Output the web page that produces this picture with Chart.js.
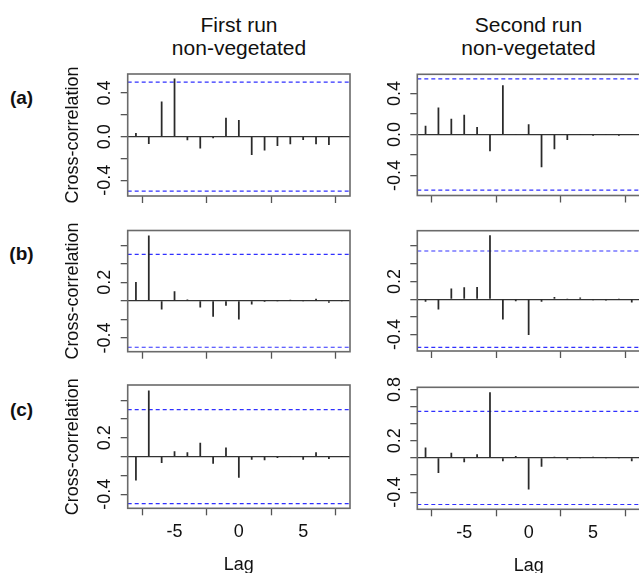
<!DOCTYPE html>
<html><head><meta charset="utf-8">
<script src="https://cdn.jsdelivr.net/npm/chart.js@4.4.1/dist/chart.umd.min.js"></script>
<style>
html,body{margin:0;padding:0;background:#fff;width:639px;height:573px;overflow:hidden;position:relative;font-family:'Liberation Sans',Arial,sans-serif;color:#111}
canvas{position:absolute}
.t{position:absolute;line-height:1;white-space:nowrap;transform:translate(-50%,-50%)}
.h{font-size:21px}
.r{font-size:19px;font-weight:bold}
</style></head><body>
<div class="t h" style="left:239px;top:24.4px">First run</div>
<div class="t h" style="left:239px;top:47.2px">non-vegetated</div>
<div class="t h" style="left:528.5px;top:24.4px">Second run</div>
<div class="t h" style="left:528.5px;top:47.2px">non-vegetated</div>
<div class="t r" style="left:21.5px;top:96.5px">(a)</div>
<div class="t r" style="left:21.5px;top:253px">(b)</div>
<div class="t r" style="left:21.5px;top:409px">(c)</div>
<script>
// ---- data ----
const lags = [-8,-7,-6,-5,-4,-3,-2,-1,0,1,2,3,4,5,6,7,8];
const aFirst  = [0.03,-0.064,0.32,0.53,-0.03,-0.107,-0.012,0.17,0.15,-0.165,-0.125,-0.083,-0.067,-0.028,-0.067,-0.073,0.0];
const aSecond = [0.082,0.26,0.15,0.19,0.069,-0.16,0.477,0.0,0.098,-0.317,-0.14,-0.05,0.0,-0.01,0.0,-0.01,0.0];
const bFirst  = [0.20,0.70,-0.09,0.10,0.01,-0.068,-0.168,-0.05,-0.197,-0.036,-0.01,0.0,0.005,0.0,0.018,-0.018,0.0];
const bSecond = [-0.026,-0.113,0.117,0.13,0.135,0.718,-0.225,-0.02,-0.40,-0.026,0.02,0.0,0.015,-0.008,-0.01,0.0,-0.035];
const cFirst  = [-0.25,0.70,-0.065,0.054,0.043,0.143,-0.072,0.093,-0.222,-0.029,-0.036,-0.01,0.0,-0.029,0.043,-0.022,0.0];
const cSecond = [0.117,-0.171,0.058,-0.047,0.039,0.763,-0.035,0.02,-0.366,-0.10,0.01,-0.016,0.0,0.01,0.0,0.0,-0.035];
const ciFirst = 0.5;
const ciSecond = 0.544;
const xTicks = [-5,0,5];
const yTicksSmall = [-0.4,-0.2,0,0.2,0.4];
const yLabelsSmall = [-0.4,0,0.4];
const yTicksMid = [-0.4,-0.2,0,0.2,0.4,0.6];
const yLabelsMid = [-0.4,0.2];
const yTicksBig = [-0.4,-0.2,0,0.2,0.4,0.6,0.8];
const yLabelsBig = [-0.4,0.2,0.8];
const XMIN = -8.64, XMAX = 8.64;

// ---- layout ----
const panels = [
 {vals:aFirst, ci:ciFirst, yt:yTicksSmall, yl:yLabelsSmall, ymin:-0.545, ymax:0.575, cv:[0,60,360,155], box:[127.7,74,350,196], ytitle:true, xlab:false},
 {vals:aSecond, ci:ciSecond, yt:yTicksSmall, yl:yLabelsSmall, ymin:-0.596, ymax:0.588, cv:[370,60,280,155], box:[417.3,74.3,640,195.5], ytitle:false, xlab:false},
 {vals:bFirst, ci:ciFirst, yt:yTicksMid, yl:yLabelsMid, ymin:-0.548, ymax:0.758, cv:[0,215,360,155], box:[127.7,230.5,350,351.7], ytitle:true, xlab:false},
 {vals:bSecond, ci:ciSecond, yt:yTicksMid, yl:yLabelsMid, ymin:-0.585, ymax:0.773, cv:[370,215,280,155], box:[417.3,230.7,640,351], ytitle:false, xlab:false},
 {vals:cFirst, ci:ciFirst, yt:yTicksMid, yl:yLabelsMid, ymin:-0.55, ymax:0.762, cv:[0,370,360,203], box:[127.7,385,350,508.3], ytitle:true, xlab:true},
 {vals:cSecond, ci:ciSecond, yt:yTicksBig, yl:yLabelsBig, ymin:-0.6, ymax:0.825, cv:[370,370,280,203], box:[417.3,387.3,640,509.3], ytitle:false, xlab:true}
];

const FONT = '18px "Liberation Sans", Arial, sans-serif';
const deco = {
  id:'deco',
  afterDraw(chart, args, o){
    const {ctx, chartArea:a, scales:{x,y}} = chart;
    ctx.save();
    ctx.strokeStyle = '#6a6a6a'; ctx.lineWidth = 1.6;
    ctx.strokeRect(a.left, a.top, a.right-a.left, a.bottom-a.top);
    ctx.fillStyle = '#111';
    ctx.font = FONT;
    ctx.textAlign = 'center'; ctx.textBaseline = 'alphabetic';
    o.yl.forEach(v => {
      const py = y.getPixelForValue(v);
      ctx.save(); ctx.translate(a.left-17.7, py); ctx.rotate(-Math.PI/2);
      ctx.fillText(v.toFixed(1), 0, 0); ctx.restore();
    });
    if (o.ytitle) {
      ctx.save(); ctx.translate(a.left-49.7, (a.top+a.bottom)/2); ctx.rotate(-Math.PI/2);
      ctx.fillText('Cross-correlation', 0, 0); ctx.restore();
    }
    if (o.xlab) {
      xTicks.forEach(v => ctx.fillText(String(v), x.getPixelForValue(v), a.bottom+29));
      ctx.fillText('Lag', (a.left+a.right)/2, a.bottom+62);
    }
    ctx.restore();
  }
};

panels.forEach(p => {
  const c = document.createElement('canvas');
  const [cl, ct, cw, ch] = p.cv;
  const [bl, bt, br, bb] = p.box;
  c.width = cw; c.height = ch;
  c.style.left = cl+'px'; c.style.top = ct+'px';
  c.style.width = cw+'px'; c.style.height = ch+'px';
  document.body.appendChild(c);
  const dash = {type:'line', borderColor:'rgba(25,25,255,0.9)', borderWidth:1.2, borderDash:[4,3], pointRadius:0, fill:false};
  new Chart(c, {
    type:'bar',
    data:{datasets:[
      {type:'bar', data: lags.map((l,i)=>({x:l, y:p.vals[i]})), backgroundColor:'#2a2a2a', barThickness:1.1, grouped:false},
      Object.assign({data:[{x:XMIN,y:p.ci},{x:XMAX,y:p.ci}]}, dash),
      Object.assign({data:[{x:XMIN,y:-p.ci},{x:XMAX,y:-p.ci}]}, dash)
    ]},
    options:{
      responsive:false, animation:false, devicePixelRatio:1,
      layout:{padding:{top: bt-ct, right: (cl+cw)-br, left:0, bottom:0}},
      plugins:{legend:{display:false}, tooltip:{enabled:false}, deco:{yl:p.yl, ytitle:p.ytitle, xlab:p.xlab}},
      scales:{
        x:{type:'linear', min:XMIN, max:XMAX, offset:false,
           afterBuildTicks: s => { s.ticks = xTicks.map(v=>({value:v})); },
           afterFit: s => { s.height = (ct+ch)-bb; },
           ticks:{display:false},
           grid:{drawOnChartArea:false, tickLength:7, tickColor:'#555', tickWidth:1.3},
           border:{display:false}},
        y:{type:'linear', min:p.ymin, max:p.ymax,
           afterBuildTicks: s => { s.ticks = p.yt.map(v=>({value:v})); },
           afterFit: s => { s.width = bl-cl; },
           ticks:{display:false},
           grid:{drawOnChartArea:true, color: g => (g.tick && g.tick.value===0) ? '#333' : 'rgba(0,0,0,0)', lineWidth:1.3, tickLength:7, tickColor:'#555', tickWidth:1.3},
           border:{display:false}}
      }
    },
    plugins:[deco]
  });
});
</script>
</body></html>
